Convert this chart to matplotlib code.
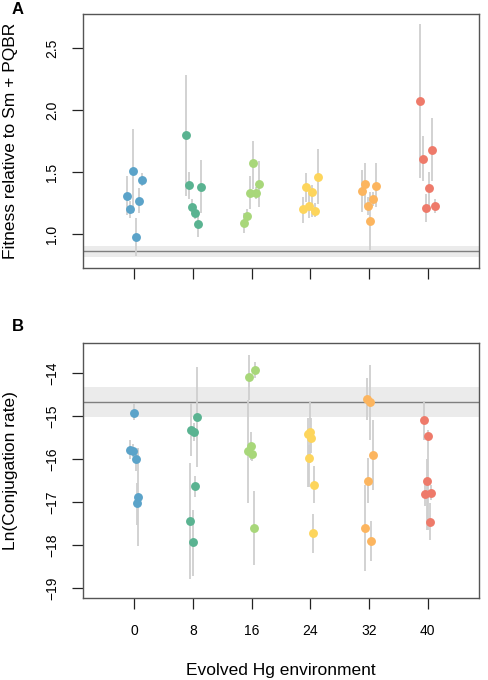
import matplotlib
matplotlib.use("Agg")
import matplotlib.pyplot as plt
import numpy as np

plt.rcParams['font.family'] = ['Liberation Sans', 'DejaVu Sans']

envs = [0, 8, 16, 24, 32, 40]
colors = ['#5BA3C9', '#5AB391', '#A8D77A', '#FDD55C', '#FCB55F', '#EE7A6A']

# Panel A: fitness (per environment: jitter, value, lower, upper)
fit_jit = [[-0.95, -0.54, -0.18, 0.23, 0.63, 1.0],
           [-0.97, -0.56, -0.15, 0.21, 0.62, 1.03],
           [-1.0, -0.6, -0.2, 0.2, 0.6, 1.0],
           [-1.0, -0.55, -0.15, 0.25, 0.6, 1.0],
           [-1.0, -0.6, -0.2, 0.2, 0.6, 1.0],
           [-1.04, -0.6, -0.2, 0.2, 0.6, 1.0]]
fit_val = [[1.306, 1.199, 1.508, 0.973, 1.269, 1.438],
           [1.801, 1.395, 1.22, 1.169, 1.083, 1.382],
           [1.091, 1.145, 1.333, 1.573, 1.331, 1.406],
           [1.202, 1.384, 1.223, 1.336, 1.188, 1.457],
           [1.349, 1.406, 1.228, 1.108, 1.285, 1.392],
           [2.075, 1.61, 1.212, 1.368, 1.677, 1.223]]
fit_lo = [[1.15, 1.13, 1.17, 0.82, 1.17, 1.39],
          [1.31, 1.28, 1.16, 1.12, 0.98, 1.17],
          [1.01, 1.09, 1.20, 1.36, 1.28, 1.22],
          [1.09, 1.26, 1.13, 1.14, 1.14, 1.24],
          [1.18, 1.22, 1.15, 0.87, 1.23, 1.22],
          [1.45, 1.43, 1.10, 1.22, 1.43, 1.17]]
fit_hi = [[1.47, 1.27, 1.85, 1.13, 1.37, 1.49],
          [2.285, 1.50, 1.28, 1.22, 1.16, 1.60],
          [1.17, 1.20, 1.47, 1.755, 1.38, 1.59],
          [1.30, 1.49, 1.33, 1.40, 1.25, 1.69],
          [1.52, 1.57, 1.30, 1.34, 1.34, 1.57],
          [2.70, 1.79, 1.32, 1.50, 1.94, 1.28]]
fit_ref = 0.860
fit_ref_band = (0.815, 0.906)

# Panel B: conjugation rate
con_jit = [[-0.09, -0.54, -0.23, 0.18, 0.36, 0.54],
           [-0.47, -0.33, -0.06, 0.12, 0.34, 0.53],
           [-0.3, 0.5, -0.5, -0.1, 0.1, 0.3],
           [-0.3, -0.1, 0.1, -0.25, 0.5, 0.3],
           [-0.3, 0.1, 0.5, -0.1, -0.5, 0.3],
           [-0.5, 0.1, -0.1, -0.3, 0.5, 0.3]]
con_val = [[-14.92, -15.78, -15.81, -16.00, -17.02, -16.89],
           [-17.43, -15.32, -17.93, -15.36, -16.63, -15.02],
           [-14.09, -13.93, -15.82, -15.70, -15.88, -17.60],
           [-15.42, -15.38, -15.50, -15.98, -16.60, -17.73],
           [-14.60, -14.68, -15.91, -16.50, -17.61, -17.91],
           [-15.08, -15.46, -16.50, -16.81, -16.78, -17.47]]
con_lo = [[-15.10, -16.00, -15.95, -16.28, -17.53, -18.03],
          [-18.79, -15.92, -18.73, -15.58, -16.87, -16.19],
          [-14.62, -14.12, -17.02, -16.02, -16.05, -18.46],
          [-16.64, -16.09, -15.86, -16.64, -17.02, -18.19],
          [-15.08, -15.55, -16.73, -17.02, -18.61, -18.38],
          [-15.55, -17.64, -17.64, -17.10, -16.95, -17.89]]
con_hi = [[-14.71, -15.55, -15.65, -15.78, -16.56, -15.74],
          [-16.08, -14.70, -17.18, -15.15, -16.40, -13.86],
          [-13.57, -13.74, -14.62, -15.36, -15.70, -16.75],
          [-15.05, -14.64, -15.05, -15.67, -16.16, -17.27],
          [-14.12, -13.81, -15.10, -15.98, -16.60, -17.45],
          [-14.64, -15.32, -15.99, -16.56, -16.60, -17.02]]
con_ref = -14.67
con_ref_band = (-15.03, -14.33)

fig = plt.figure(figsize=(4.88, 6.8), dpi=100)
axA = fig.add_axes([83/488, 1-268/680, (479-83)/488, (268-14)/680])
axB = fig.add_axes([83/488, 1-598/680, (479-83)/488, (598-343)/680])

def draw(ax, jit, val, lo, hi, ref, band):
    ax.axhspan(band[0], band[1], color='#EBEBEB', zorder=0, lw=0)
    ax.axhline(ref, color='#7F7F7F', lw=1.0, zorder=1)
    for i, e in enumerate(envs):
        xs = np.array(jit[i]) + e
        ax.vlines(xs, lo[i], hi[i], color='#CFCFCF', lw=1.3, zorder=2)
        ax.plot(xs, val[i], 'o', ms=6.4, color=colors[i], mec='none', zorder=3)
    ax.set_xlim(-7.0, 47.0)
    ax.set_xticks(envs)
    for s in ax.spines.values():
        s.set_color('#555555')
        s.set_linewidth(1.0)
    ax.tick_params(axis='both', length=8, width=0.9, color='#222222',
                   labelsize=10)
    ax.tick_params(axis='y', pad=9)
    ax.yaxis.set_label_coords(-0.163, 0.5)

draw(axA, fit_jit, fit_val, fit_lo, fit_hi, fit_ref, fit_ref_band)
axA.set_ylim(0.726, 2.777)
axA.set_yticks([1.0, 1.5, 2.0, 2.5])
axA.set_yticklabels(['1.0', '1.5', '2.0', '2.5'], rotation=90, va='center')
axA.set_xticklabels([])
axA.set_ylabel('Fitness relative to Sm + PQBR', fontsize=12.5)

draw(axB, con_jit, con_val, con_lo, con_hi, con_ref, con_ref_band)
axB.set_ylim(-19.23, -13.30)
axB.set_yticks([-19, -18, -17, -16, -15, -14])
axB.set_yticklabels(['\u221219', '\u221218', '\u221217', '\u221216', '\u221215', '\u221214'],
                    rotation=90, va='center')
axB.set_xticklabels([str(e) for e in envs])
axB.tick_params(axis='x', pad=11)
axB.set_ylabel('Ln(Conjugation rate)', fontsize=12.5)
axB.set_xlabel('Evolved Hg environment', fontsize=12.5, labelpad=18)

fig.text(12/488, 1-9/680, 'A', fontsize=12, fontweight='bold', ha='left', va='center')
fig.text(12/488, 1-326/680, 'B', fontsize=12, fontweight='bold', ha='left', va='center')

fig.savefig('out.png', dpi=100)
